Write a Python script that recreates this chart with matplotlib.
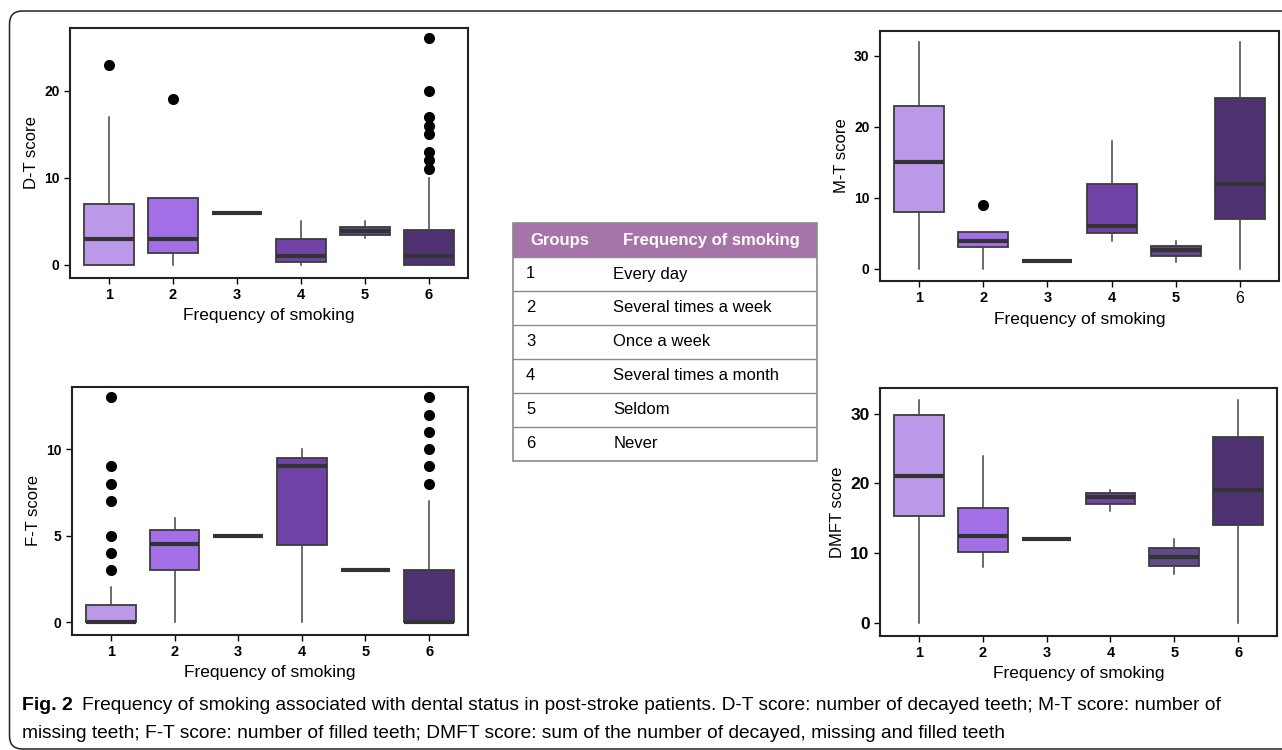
import numpy as np
import matplotlib.pyplot as plt
from matplotlib.patches import FancyBboxPatch, Rectangle

plt.rcParams['font.family'] = 'Liberation Sans'

groups = [1, 2, 3, 4, 5, 6]
colors = ['#BB99E8', '#A26FE6', '#8A5CC8', '#7043A6', '#5F4A8C', '#4E3272']

# D-T score
dt_q1 = [0, 1.4, 6, 0.3, 3.4, 0]
dt_med = [3, 3, 6, 1, 3.9, 1]
dt_q3 = [7, 7.7, 6, 3, 4.4, 4]
dt_lo = [0, 0, 6, 0, 3.1, 0]
dt_hi = [17, 7.7, 6, 5, 5, 10]
dt_out = [[23], [19], [], [], [], [11, 12, 13, 15, 16, 17, 20, 26]]

# M-T score
mt_q1 = [8, 3.1, 1.1, 5, 1.8, 7]
mt_med = [15, 4, 1.1, 6, 2.6, 12]
mt_q3 = [23, 5.2, 1.1, 12, 3.2, 24]
mt_lo = [0, 0, 1.1, 4, 1, 0]
mt_hi = [32, 5.2, 1.1, 18, 4, 32]
mt_out = [[], [9], [], [], [], []]

# F-T score
ft_q1 = [0, 3, 5, 4.45, 3, 0]
ft_med = [0, 4.5, 5, 9, 3, 0]
ft_q3 = [1, 5.3, 5, 9.5, 3, 3]
ft_lo = [0, 0, 5, 0, 3, 0]
ft_hi = [2, 6, 5, 10, 3, 7]
ft_out = [[3, 4, 5, 7, 8, 9, 13], [], [], [], [], [8, 9, 10, 11, 12, 13]]

# DMFT score
dmft_q1 = [15.3, 10.2, 12, 17, 8.2, 14]
dmft_med = [21, 12.4, 12, 18, 9.5, 19]
dmft_q3 = [29.8, 16.5, 12, 18.6, 10.7, 26.7]
dmft_lo = [0, 8, 12, 16, 7, 0]
dmft_hi = [32, 24, 12, 19, 12, 32]
dmft_out = [[], [], [], [], [], []]

table_header = ['Groups', 'Frequency of smoking']
table_groups = ['1', '2', '3', '4', '5', '6']
table_labels = ['Every day', 'Several times a week', 'Once a week',
                'Several times a month', 'Seldom', 'Never']

caption_bold = 'Fig. 2'
caption_lines = ['Frequency of smoking associated with dental status in post-stroke patients. '
                 'D-T score: number of decayed teeth; M-T score: number of',
                 'missing teeth; F-T score: number of filled teeth; DMFT score: sum of the '
                 'number of decayed, missing and filled teeth']


def boxplot_panel(ax, q1, med, q3, lo, hi, out, ylabel, yticks, ylim, ytick_size=10):
    stats = []
    for i in range(len(groups)):
        stats.append(dict(q1=q1[i], med=med[i], q3=q3[i], whislo=lo[i], whishi=hi[i],
                          fliers=out[i]))
    bp = ax.bxp(stats, positions=groups, widths=0.78, patch_artist=True, showcaps=False,
                boxprops=dict(edgecolor='#3C3C3C', linewidth=1.3),
                medianprops=dict(color='#333333', linewidth=3, solid_capstyle='butt'),
                whiskerprops=dict(color='#444444', linewidth=1.1),
                flierprops=dict(marker='o', markerfacecolor='black', markeredgecolor='black',
                                markersize=7))
    for patch, c in zip(bp['boxes'], colors):
        patch.set_facecolor(c)
    ax.set_xlim(0.39, 6.61)
    ax.set_ylim(*ylim)
    ax.set_yticks(yticks)
    ax.set_xticks(groups)
    ax.set_xticklabels([str(g) for g in groups])
    ax.tick_params(axis='x', labelsize=10.5, length=4, width=1)
    ax.tick_params(axis='y', labelsize=ytick_size, length=4, width=1)
    for lab in ax.get_xticklabels() + ax.get_yticklabels():
        lab.set_fontweight('bold')
    for sp in ax.spines.values():
        sp.set_linewidth(1.5)
        sp.set_color('#222222')
    ax.set_xlabel('Frequency of smoking', fontsize=12.5, labelpad=4)
    ax.set_ylabel(ylabel, fontsize=12, labelpad=4)


fig = plt.figure(figsize=(12.82, 7.5), dpi=100)

# outer rounded frame
frame = FancyBboxPatch((0.095, 0.01), 13.5, 7.38, boxstyle='round,pad=0,rounding_size=0.13',
                       transform=fig.dpi_scale_trans, facecolor='none', edgecolor='#222222',
                       linewidth=1.1)
fig.patches.append(frame)

ax1 = fig.add_axes([70 / 1282, 1 - 278 / 750, 398 / 1282, 250 / 750])
boxplot_panel(ax1, dt_q1, dt_med, dt_q3, dt_lo, dt_hi, dt_out, 'D-T score',
              [0, 10, 20], (-1.5, 27.2))

ax2 = fig.add_axes([880 / 1282, 1 - 281 / 750, 399 / 1282, 250 / 750])
boxplot_panel(ax2, mt_q1, mt_med, mt_q3, mt_lo, mt_hi, mt_out, 'M-T score',
              [0, 10, 20, 30], (-1.7, 33.5))
ax2.get_xticklabels()[5].set_fontweight('normal')
ax2.get_xticklabels()[5].set_fontsize(11.5)

ax3 = fig.add_axes([72 / 1282, 1 - 635 / 750, 396 / 1282, 248 / 750])
boxplot_panel(ax3, ft_q1, ft_med, ft_q3, ft_lo, ft_hi, ft_out, 'F-T score',
              [0, 5, 10], (-0.75, 13.6))

ax4 = fig.add_axes([880 / 1282, 1 - 636 / 750, 397 / 1282, 248 / 750])
boxplot_panel(ax4, dmft_q1, dmft_med, dmft_q3, dmft_lo, dmft_hi, dmft_out, 'DMFT score',
              [0, 10, 20, 30], (-1.9, 33.7), ytick_size=12.5)

# group legend table
axt = fig.add_axes([513 / 1282, 1 - 461 / 750, 304 / 1282, 238 / 750])
axt.axis('off')
axt.set_xlim(0, 1)
axt.set_ylim(0, 1)
cells = [[g, lab] for g, lab in zip(table_groups, table_labels)]
tab = axt.table(cellText=cells, colLabels=table_header, colWidths=[93 / 304, 211 / 304],
                cellLoc='left', bbox=[0, 0, 1, 1])
tab.auto_set_font_size(False)
tab.set_fontsize(12)
for (r, c), cell in tab.get_celld().items():
    cell.set_edgecolor('none')
    cell.PAD = 0.14 if c == 0 else 0.035
    if r == 0:
        cell.set_facecolor('#A674A8')
        cell.get_text().set_color('white')
        cell.get_text().set_fontweight('bold')
# horizontal rules and outer border (no vertical divider)
nrows = len(table_groups) + 1
for k in range(1, nrows):
    axt.axhline(k / nrows, color='#8A8A8A', linewidth=1, zorder=5)
axt.add_patch(Rectangle((0, 0), 1, 1, transform=axt.transAxes, fill=False,
                        edgecolor='#8A8A8A', linewidth=1.2, zorder=5, clip_on=False))

# caption
renderer = fig.canvas.get_renderer()
t0 = fig.text(22 / 1282, 1 - 705 / 750, caption_bold, fontsize=14, fontweight='bold',
              va='center', ha='left')
bb = t0.get_window_extent(renderer=renderer)
fig.text((bb.x1 + 9) / 1282, 1 - 705 / 750, caption_lines[0], fontsize=13.8,
         va='center', ha='left')
fig.text(22 / 1282, 1 - 733 / 750, caption_lines[1], fontsize=13.8,
         va='center', ha='left')

fig.savefig('out.png', dpi=100)
